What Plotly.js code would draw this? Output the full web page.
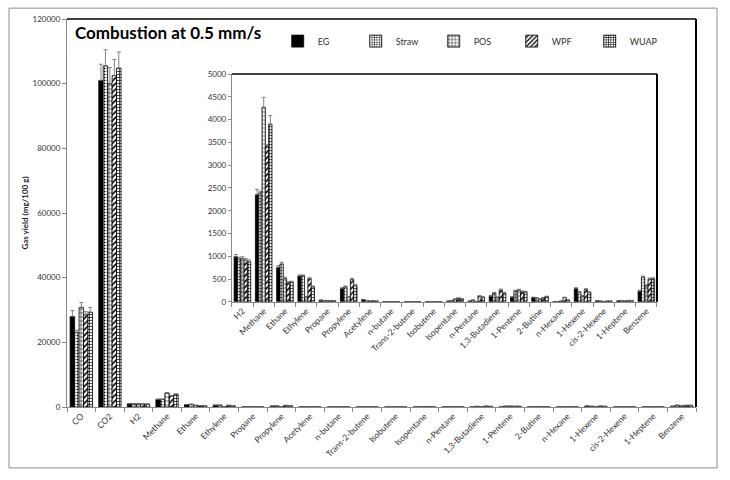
<!DOCTYPE html>
<html>
<head>
<meta charset="utf-8">
<script src="https://cdn.plot.ly/plotly-3.0.1.min.js"></script>
<style>html,body{margin:0;padding:0;background:#fff}#chart{width:730px;height:480px}</style>
</head>
<body>
<div id="chart"></div>
<script>
// Categories (main chart); inset uses all but CO and CO2
const categories = ["CO","CO2","H2","Methane","Ethane","Ethylene","Propane","Propylene","Acetylene","n-butane","Trans-2-butene","Isobutene","Isopentane","n-Pentane","1,3-Butadiene","1-Pentene","2-Butine","n-Hexane","1-Hexene","cis-2-Hexene","1-Heptene","Benzene"];
const seriesNames = ["EG","Straw","POS","WPF","WUAP"];

// Gas yields (mg/100 g)
const EG    = [28000,101000, 990,2350,755,565,37,293,51,5,3,3,15,15,124,102,95,7,292,22,22,234];
const Straw = [23000,105500, 940,2390,827,571,29,329,29,5,3,3,30,37,190,234,80,7,212,15,29,541];
const POS   = [30800,100000, 950,4270,512,110,22,110,15,5,3,3,58,7,95,256,58,15,124,7,15,351];
const WPF   = [28500,102500, 910,3420,417,505,29,490,22,5,3,3,80,124,256,219,88,95,270,15,29,497];
const WUAP  = [29300,104800, 880,3900,432,329,22,359,15,5,3,3,66,102,190,212,117,37,205,15,29,504];

// Error bars (upper)
const EG_err    = [1800,5000, 50,120,40,25,3,20,5,1,1,1,3,3,15,15,10,2,20,3,3,20];
const Straw_err = [700,5000, 40,40,40,20,3,20,3,1,1,1,3,3,20,20,8,2,20,2,3,25];
const POS_err   = [1500,5000, 40,220,30,10,2,10,2,1,1,1,5,2,15,20,6,3,15,2,2,25];
const WPF_err   = [1000,5000, 40,30,30,25,3,25,2,1,1,1,5,10,25,20,8,8,20,2,3,25];
const WUAP_err  = [1500,5000, 40,190,20,20,2,25,2,1,1,1,5,8,20,20,8,4,20,2,3,25];

const values = [EG, Straw, POS, WPF, WUAP];
const errors = [EG_err, Straw_err, POS_err, WPF_err, WUAP_err];

const styles = [
  {color:"#000000", pattern:{shape:""}},
  {color:"#ffffff", pattern:{shape:".", size:3, solidity:0.3, fgcolor:"#000", bgcolor:"#fff"}},
  {color:"#ffffff", pattern:{shape:"+", size:4, solidity:0.25, fgcolor:"#000", bgcolor:"#fff"}},
  {color:"#ffffff", pattern:{shape:"/", size:4, solidity:0.4, fgcolor:"#000", bgcolor:"#fff"}},
  {color:"#ffffff", pattern:{shape:"+", size:3, solidity:0.4, fgcolor:"#000", bgcolor:"#fff"}}
];

const insetCategories = categories.slice(2);
const traces = [];
seriesNames.forEach((name, i) => {
  const marker = {color: styles[i].color, pattern: styles[i].pattern, line:{color:"#000", width:0.8}};
  const errY = (arr) => ({type:"data", symmetric:false, array:arr, arrayminus:arr.map(()=>0), color:"#666", thickness:0.8, width:2});
  traces.push({type:"bar", name:name, x:categories, y:values[i], marker:marker,
    error_y: errY(errors[i]), xaxis:"x", yaxis:"y", legendgroup:name});
  traces.push({type:"bar", name:name, x:insetCategories, y:values[i].slice(2), marker:marker,
    error_y: errY(errors[i].slice(2)), xaxis:"x2", yaxis:"y2", legendgroup:name, showlegend:false});
});

const tickFont = {family:"Lato, 'Open Sans', sans-serif", size:8.5, color:"#333"};
const yTickFont = {family:"Lato, 'Open Sans', sans-serif", size:8, color:"#333"};
const layout = {
  width:730, height:480,
  margin:{l:67, r:34, t:19, b:73},
  paper_bgcolor:"#fff", plot_bgcolor:"rgba(0,0,0,0)",
  font:{family:"Lato, 'Open Sans', sans-serif", color:"#333"},
  barmode:"group", bargap:0.22, bargroupgap:0,
  showlegend:true,
  legend:{orientation:"h", x:0.335, xanchor:"left", y:0.943, yanchor:"middle",
    font:{family:"Lato, sans-serif", size:9, color:"#333"}, entrywidth:33, entrywidthmode:"pixels",
    itemwidth:30, bgcolor:"rgba(0,0,0,0)", traceorder:"normal"},
  xaxis:{domain:[0,1], anchor:"y", tickangle:-45, tickfont:tickFont, showline:true, linecolor:"#888", linewidth:1,
    ticks:"outside", ticklen:4, tickcolor:"#888", tickson:"boundaries", showgrid:false, zeroline:false, fixedrange:true},
  yaxis:{domain:[0,1], anchor:"x", range:[0,120000], dtick:20000, tickfont:yTickFont, showline:true, linecolor:"#888",
    linewidth:1, ticks:"outside", ticklen:4, tickcolor:"#888", showgrid:false, zeroline:false, tickformat:"d",
    title:{text:"<b>Gas yield (mg/100 g)</b>", font:{size:8, color:"#222"}, standoff:2}},
  xaxis2:{domain:[0.262,0.938], anchor:"y2", tickangle:-45, tickfont:tickFont, showline:true, linecolor:"#888",
    linewidth:1, ticks:"outside", ticklen:4, tickcolor:"#888", tickson:"boundaries", showgrid:false, zeroline:false},
  yaxis2:{domain:[0.271,0.858], anchor:"x2", range:[0,5000], dtick:500, tickfont:yTickFont, showline:true,
    linecolor:"#888", linewidth:1, ticks:"outside", ticklen:3, tickcolor:"#888", showgrid:false, zeroline:false, tickformat:"d"},
  shapes:[
    {type:"rect", xref:"paper", yref:"paper", x0:-0.0922, x1:1.0334, y0:-0.157, y1:1.028, line:{color:"#8c8c8c", width:1}},
    {type:"line", xref:"paper", yref:"paper", x0:0, x1:1, y0:1, y1:1, line:{color:"#000", width:1.5}},
    {type:"line", xref:"paper", yref:"paper", x0:1, x1:1, y0:0, y1:1, line:{color:"#000", width:2}},
    {type:"line", xref:"x2 domain", yref:"y2 domain", x0:0, x1:1, y0:1, y1:1, line:{color:"#000", width:1.5}},
    {type:"line", xref:"x2 domain", yref:"y2 domain", x0:1, x1:1, y0:0, y1:1, line:{color:"#000", width:2}}
  ],
  annotations:[
    {text:"<b>Combustion at 0.5 mm/s</b>", xref:"paper", yref:"paper", x:0.01, y:0.964, xanchor:"left", yanchor:"middle",
     showarrow:false, font:{family:"Lato, 'Open Sans', sans-serif", size:17, color:"#000"}}
  ]
};

Plotly.newPlot("chart", traces, layout, {staticPlot:true, displayModeBar:false});
</script>
</body>
</html>
